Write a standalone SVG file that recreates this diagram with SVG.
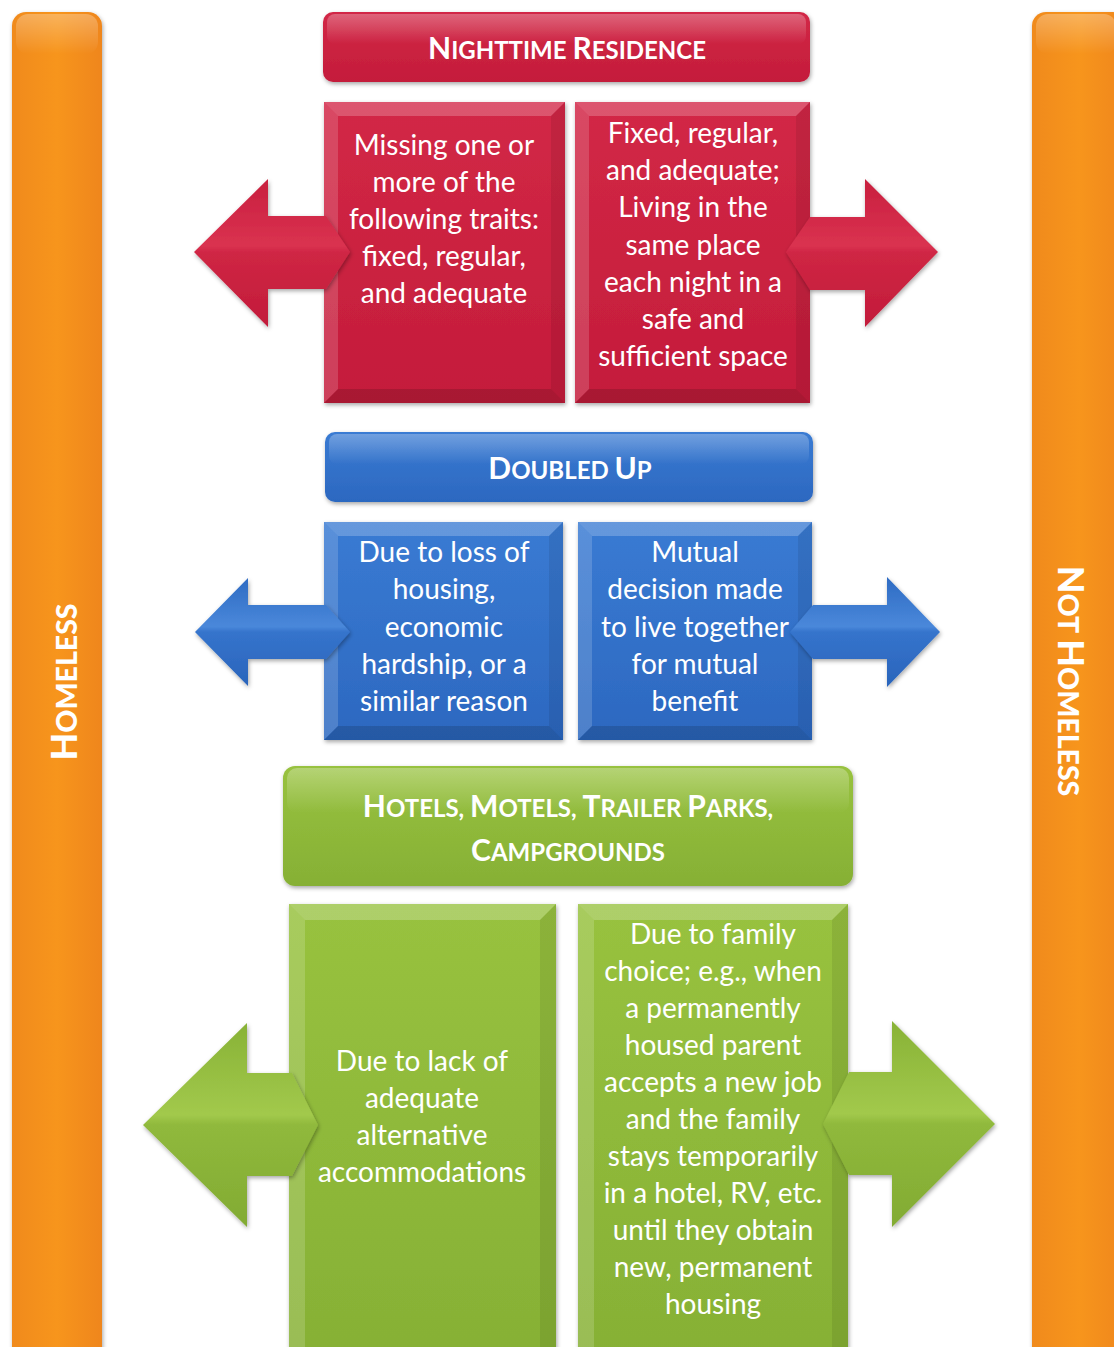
<svg xmlns="http://www.w3.org/2000/svg" width="1114" height="1347" viewBox="0 0 1114 1347">
<defs>
<linearGradient id="gOrange" x1="0" y1="0" x2="1" y2="0">
<stop offset="0" stop-color="#f08a1c"/><stop offset="0.5" stop-color="#f7951f"/><stop offset="1" stop-color="#ef861a"/>
</linearGradient>
<linearGradient id="gRed" x1="0" y1="0" x2="0" y2="1">
<stop offset="0" stop-color="#d22846"/><stop offset="1" stop-color="#c41c3b"/>
</linearGradient>
<linearGradient id="gRedA" x1="0" y1="0" x2="0" y2="1">
<stop offset="0" stop-color="#c81f3e"/><stop offset="0.45" stop-color="#da3250"/><stop offset="0.5" stop-color="#cf2644"/><stop offset="1" stop-color="#c21b3a"/>
</linearGradient>
<linearGradient id="gBlue" x1="0" y1="0" x2="0" y2="1">
<stop offset="0" stop-color="#3a7bd3"/><stop offset="1" stop-color="#2c68c0"/>
</linearGradient>
<linearGradient id="gBlueA" x1="0" y1="0" x2="0" y2="1">
<stop offset="0" stop-color="#2e6bc3"/><stop offset="0.45" stop-color="#4a88da"/><stop offset="0.5" stop-color="#3574cc"/><stop offset="1" stop-color="#2a64bb"/>
</linearGradient>
<linearGradient id="gGreen" x1="0" y1="0" x2="0" y2="1">
<stop offset="0" stop-color="#98c23f"/><stop offset="1" stop-color="#86b035"/>
</linearGradient>
<linearGradient id="gGreenA" x1="0" y1="0" x2="0" y2="1">
<stop offset="0" stop-color="#88b236"/><stop offset="0.45" stop-color="#a2c94c"/><stop offset="0.5" stop-color="#90b93c"/><stop offset="1" stop-color="#82ab33"/>
</linearGradient>
<linearGradient id="gGloss" x1="0" y1="0" x2="0" y2="1">
<stop offset="0" stop-color="#ffffff" stop-opacity="0.28"/><stop offset="1" stop-color="#ffffff" stop-opacity="0"/>
</linearGradient>
<filter id="sh" x="-10%" y="-10%" width="120%" height="120%">
<feDropShadow dx="1" dy="2" stdDeviation="2" flood-color="#000" flood-opacity="0.35"/>
</filter>
</defs>
<style>
.t{font-family:Lato,"Open Sans","Liberation Sans",sans-serif;font-size:28px;fill:#ffffff;text-anchor:middle}
.h{font-family:Lato,"Open Sans","Liberation Sans",sans-serif;font-weight:bold;fill:#ffffff;text-anchor:middle}
.big{font-size:30px}
.sm{font-size:24px}
.v{font-family:Lato,"Open Sans","Liberation Sans",sans-serif;font-weight:900;fill:#ffffff;text-anchor:middle}
.vb{font-size:36px}
.vs{font-size:28.5px}
.bl{fill:#ffffff;fill-opacity:0.16}
.bt{fill:#ffffff;fill-opacity:0.22}
.br{fill:#000000;fill-opacity:0.08}
.bb{fill:#000000;fill-opacity:0.14}
</style>
<rect width="1114" height="1347" fill="#ffffff"/>

<g id="homeless">
<rect x="12" y="12" width="90" height="1350" rx="14" fill="url(#gOrange)" filter="url(#sh)"/>
<rect x="16" y="14" width="82" height="40" rx="12" fill="url(#gGloss)"/>
<text class="v" transform="translate(77,682) rotate(-90)"><tspan class="vb">H</tspan><tspan class="vs">OMELESS</tspan></text>
</g>
<g id="not-homeless">
<rect x="1032" y="12" width="95" height="1350" rx="14" fill="url(#gOrange)" filter="url(#sh)"/>
<rect x="1036" y="14" width="80" height="40" rx="12" fill="url(#gGloss)"/>
<text class="v" transform="translate(1058,681) rotate(90)"><tspan class="vb">N</tspan><tspan class="vs">OT </tspan><tspan class="vb">H</tspan><tspan class="vs">OMELESS</tspan></text>
</g>

<g id="nighttime-residence">
<rect x="323" y="12" width="487" height="70" rx="10" fill="url(#gRed)" filter="url(#sh)"/>
<rect x="327" y="14" width="479" height="30" rx="8" fill="url(#gGloss)"/>
<text class="h" x="567" y="59"><tspan class="big">N</tspan><tspan class="sm">IGHTTIME </tspan><tspan class="big">R</tspan><tspan class="sm">ESIDENCE</tspan></text>
</g>

<g id="red-left">
<rect x="324" y="102" width="241" height="301" fill="url(#gRed)" filter="url(#sh)"/>
<polygon class="bt" points="324,102 565,102 551,116 338,116"/>
<polygon class="bl" points="324,102 338,116 338,389 324,403"/>
<polygon class="br" points="565,102 551,116 551,389 565,403"/>
<polygon class="bb" points="324,403 565,403 551,389 338,389"/>
</g>
<g id="red-right">
<rect x="575" y="102" width="235" height="301" fill="url(#gRed)" filter="url(#sh)"/>
<polygon class="bt" points="575,102 810,102 796,116 589,116"/>
<polygon class="bl" points="575,102 589,116 589,389 575,403"/>
<polygon class="br" points="810,102 796,116 796,389 810,403"/>
<polygon class="bb" points="575,403 810,403 796,389 589,389"/>
</g>

<g id="doubled-up">
<rect x="325" y="432" width="488" height="70" rx="10" fill="url(#gBlue)" filter="url(#sh)"/>
<rect x="329" y="434" width="480" height="30" rx="8" fill="url(#gGloss)"/>
<text class="h" x="570" y="479"><tspan class="big">D</tspan><tspan class="sm">OUBLED </tspan><tspan class="big">U</tspan><tspan class="sm">P</tspan></text>
</g>

<g id="blue-left">
<rect x="324" y="522" width="239" height="218" fill="url(#gBlue)" filter="url(#sh)"/>
<polygon class="bt" points="324,522 563,522 549,536 338,536"/>
<polygon class="bl" points="324,522 338,536 338,726 324,740"/>
<polygon class="br" points="563,522 549,536 549,726 563,740"/>
<polygon class="bb" points="324,740 563,740 549,726 338,726"/>
</g>
<g id="blue-right">
<rect x="578" y="522" width="234" height="218" fill="url(#gBlue)" filter="url(#sh)"/>
<polygon class="bt" points="578,522 812,522 798,536 592,536"/>
<polygon class="bl" points="578,522 592,536 592,726 578,740"/>
<polygon class="br" points="812,522 798,536 798,726 812,740"/>
<polygon class="bb" points="578,740 812,740 798,726 592,726"/>
</g>

<g id="hotels-motels">
<rect x="283" y="766" width="570" height="120" rx="12" fill="url(#gGreen)" filter="url(#sh)"/>
<rect x="287" y="768" width="562" height="45" rx="10" fill="url(#gGloss)"/>
<text class="h" x="568" y="817"><tspan class="big">H</tspan><tspan class="sm">OTELS, </tspan><tspan class="big">M</tspan><tspan class="sm">OTELS, </tspan><tspan class="big">T</tspan><tspan class="sm">RAILER </tspan><tspan class="big">P</tspan><tspan class="sm">ARKS,</tspan></text>
<text class="h" x="568" y="861"><tspan class="big">C</tspan><tspan class="sm">AMPGROUNDS</tspan></text>
</g>

<g id="green-left">
<rect x="289" y="904" width="267" height="460" fill="url(#gGreen)" filter="url(#sh)"/>
<polygon class="bt" points="289,904 556,904 540,920 305,920"/>
<polygon class="bl" points="289,904 305,920 305,1360 289,1360"/>
<polygon class="br" points="556,904 540,920 540,1360 556,1360"/>
</g>
<g id="green-right">
<rect x="578" y="904" width="270" height="460" fill="url(#gGreen)" filter="url(#sh)"/>
<polygon class="bt" points="578,904 848,904 832,920 594,920"/>
<polygon class="bl" points="578,904 594,920 594,1360 578,1360"/>
<polygon class="br" points="848,904 832,920 832,1360 848,1360"/>
</g>

<g id="connectors" filter="url(#sh)">
<polygon fill="url(#gRedA)" points="194,252 268,179 268,216 326,216 350,252 326,289 268,289 268,327"/>
<polygon fill="url(#gRedA)" points="938,252 865,179 865,217 810,217 786,252 810,290 865,290 865,327"/>
<polygon fill="url(#gBlueA)" points="195,632 248,578 248,605 326,605 350,632 326,659 248,659 248,686"/>
<polygon fill="url(#gBlueA)" points="940,632 887,577 887,605 813,605 790,632 813,659 887,659 887,687"/>
<polygon fill="url(#gGreenA)" points="143,1125 247,1023 247,1073 292,1073 318,1125 292,1176 247,1176 247,1227"/>
<polygon fill="url(#gGreenA)" points="995,1124 892,1021 892,1072 849,1072 823,1124 849,1175 892,1175 892,1227"/>
</g>

<g id="labels">
<text class="t" x="444"><tspan x="444" y="155">Missing one or</tspan><tspan x="444" y="192">more of the</tspan><tspan x="444" y="229">following traits:</tspan><tspan x="444" y="266">fixed, regular,</tspan><tspan x="444" y="303">and adequate</tspan></text>
<text class="t" x="693"><tspan x="693" y="143">Fixed, regular,</tspan><tspan x="693" y="180">and adequate;</tspan><tspan x="693" y="217">Living in the</tspan><tspan x="693" y="255">same place</tspan><tspan x="693" y="292">each night in a</tspan><tspan x="693" y="329">safe and</tspan><tspan x="693" y="366">sufficient space</tspan></text>
<text class="t" x="444"><tspan x="444" y="562">Due to loss of</tspan><tspan x="444" y="599">housing,</tspan><tspan x="444" y="637">economic</tspan><tspan x="444" y="674">hardship, or a</tspan><tspan x="444" y="711">similar reason</tspan></text>
<text class="t" x="695"><tspan x="695" y="562">Mutual</tspan><tspan x="695" y="599">decision made</tspan><tspan x="695" y="637">to live together</tspan><tspan x="695" y="674">for mutual</tspan><tspan x="695" y="711">benefit</tspan></text>
<text class="t" x="422"><tspan x="422" y="1071">Due to lack of</tspan><tspan x="422" y="1108">adequate</tspan><tspan x="422" y="1145">alternative</tspan><tspan x="422" y="1182">accommodations</tspan></text>
<text class="t" x="713"><tspan x="713" y="944">Due to family</tspan><tspan x="713" y="981">choice; e.g., when</tspan><tspan x="713" y="1018">a permanently</tspan><tspan x="713" y="1055">housed parent</tspan><tspan x="713" y="1092">accepts a new job</tspan><tspan x="713" y="1129">and the family</tspan><tspan x="713" y="1166">stays temporarily</tspan><tspan x="713" y="1203">in a hotel, RV, etc.</tspan><tspan x="713" y="1240">until they obtain</tspan><tspan x="713" y="1277">new, permanent</tspan><tspan x="713" y="1314">housing</tspan></text>
</g>
</svg>
